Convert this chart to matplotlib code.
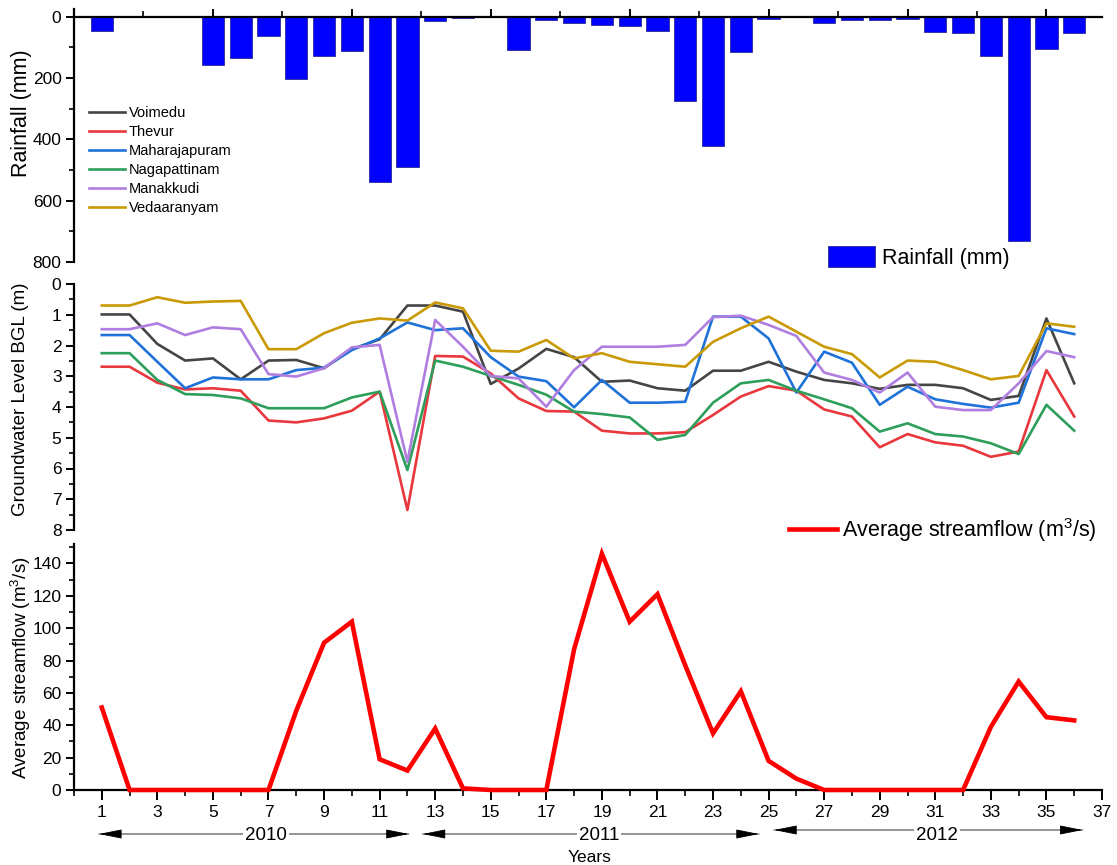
import matplotlib
matplotlib.use("Agg")
import matplotlib.pyplot as plt
import matplotlib.transforms as mtransforms
from matplotlib.ticker import MultipleLocator, FixedLocator
from matplotlib.patches import Patch

plt.rcParams["font.family"] = ["Liberation Sans", "DejaVu Sans"]
plt.rcParams["mathtext.fontset"] = "custom"
plt.rcParams["mathtext.rm"] = "Liberation Sans"

# ---------------- data ----------------
months = list(range(1, 37))

rainfall = [47, 0, 0, 0, 158, 134, 63, 203, 128, 112, 539, 491,
            14, 5, 0, 109, 12, 20, 27, 30, 47, 274, 423, 114,
            6, 2, 20, 11, 11, 6, 50, 54, 127, 730, 107, 54]

stations = ["Voimedu", "Thevur", "Maharajapuram", "Nagapattinam",
            "Manakkudi", "Vedaaranyam"]
station_colors = ["#454545", "#e8373d", "#1f72d8", "#2e9e5b", "#b07ee0", "#c99a06"]

voimedu = [0.99, 0.99, 1.95, 2.49, 2.42, 3.10, 2.49, 2.47, 2.74, 2.12, 1.80, 0.70,
           0.70, 0.90, 3.25, 2.75, 2.11, 2.38, 3.18, 3.14, 3.39, 3.47, 2.82, 2.82,
           2.53, 2.85, 3.12, 3.23, 3.41, 3.28, 3.28, 3.39, 3.77, 3.64, 1.12, 3.23]
thevur = [2.69, 2.69, 3.21, 3.43, 3.39, 3.47, 4.44, 4.50, 4.37, 4.12, 3.50, 7.35,
          2.34, 2.36, 2.91, 3.72, 4.13, 4.15, 4.77, 4.86, 4.86, 4.82, 4.26, 3.66,
          3.32, 3.47, 4.08, 4.31, 5.31, 4.88, 5.15, 5.26, 5.62, 5.45, 2.80, 4.31]
maharajapuram = [1.66, 1.66, 2.53, 3.39, 3.04, 3.10, 3.10, 2.80, 2.72, 2.15, 1.77, 1.25,
                 1.50, 1.44, 2.38, 3.01, 3.16, 4.01, 3.12, 3.86, 3.86, 3.83, 1.06, 1.06,
                 1.77, 3.53, 2.20, 2.56, 3.93, 3.34, 3.75, 3.90, 4.02, 3.86, 1.44, 1.63]
nagapattinam = [2.25, 2.25, 3.12, 3.58, 3.61, 3.72, 4.04, 4.04, 4.04, 3.69, 3.50, 6.05,
                2.49, 2.69, 2.99, 3.28, 3.60, 4.15, 4.23, 4.34, 5.07, 4.91, 3.86, 3.23,
                3.12, 3.47, 3.75, 4.04, 4.80, 4.53, 4.88, 4.96, 5.18, 5.53, 3.93, 4.77]
manakkudi = [1.47, 1.47, 1.28, 1.66, 1.41, 1.47, 2.93, 3.01, 2.74, 2.06, 1.98, 5.78,
             1.17, 2.04, 2.99, 3.07, 3.99, 2.80, 2.04, 2.04, 2.04, 1.98, 1.08, 1.03,
             1.33, 1.69, 2.88, 3.12, 3.53, 2.88, 3.99, 4.10, 4.10, 3.23, 2.18, 2.38]
vedaaranyam = [0.70, 0.70, 0.43, 0.61, 0.57, 0.55, 2.12, 2.12, 1.60, 1.26, 1.12, 1.19,
               0.60, 0.79, 2.17, 2.20, 1.82, 2.42, 2.25, 2.53, 2.61, 2.69, 1.88, 1.44,
               1.06, 1.55, 2.04, 2.28, 3.04, 2.49, 2.53, 2.80, 3.10, 2.99, 1.28, 1.39]
groundwater = [voimedu, thevur, maharajapuram, nagapattinam, manakkudi, vedaaranyam]

streamflow = [51, 0, 0, 0, 0, 0, 0, 49, 91, 104, 19, 12,
              38, 1, 0, 0, 0, 87, 146, 104, 121, 77, 35, 61,
              18, 7, 0, 0, 0, 0, 0, 0, 39, 67, 45, 43]

years = ["2010", "2011", "2012"]
x_ticks_major = list(range(1, 38, 2))

# ---------------- layout ----------------
W, H = 1117, 865
fig = plt.figure(figsize=(W / 100, H / 100), dpi=100)


def box(top_px, bottom_px, left_px=74, right_px=1102):
    return [left_px / W, 1 - bottom_px / H, (right_px - left_px) / W,
            (bottom_px - top_px) / H]


ax_r = fig.add_axes(box(9, 262))
ax_g = fig.add_axes(box(284, 530))
ax_s = fig.add_axes(box(544, 790))

TICK_FS = 12.5
LABEL_FS = 13.5
spine_lw = 1.6

for ax in (ax_r, ax_g, ax_s):
    ax.set_xlim(0, 37)
    ax.spines["right"].set_visible(False)
    for s in ax.spines.values():
        s.set_linewidth(spine_lw)
    ax.tick_params(which="major", length=6, width=1.4, labelsize=TICK_FS, pad=3)
    ax.tick_params(which="minor", length=3.5, width=1.2)
    ax.patch.set_alpha(0)

# ---- rainfall (inverted bars hanging from zero) ----
bars = ax_r.bar(months, rainfall, width=0.8, color="#0000ff",
                edgecolor="#2a2a9a", linewidth=0.6, zorder=2)
ax_r.set_ylim(800, -25)
ax_r.spines["bottom"].set_visible(False)
ax_r.spines["top"].set_position(("data", 0))
ax_r.spines["top"].set_zorder(3)
ax_r.xaxis.set_ticks_position("top")
ax_r.xaxis.set_major_locator(MultipleLocator(5))
ax_r.xaxis.set_minor_locator(MultipleLocator(2.5))
ax_r.tick_params(axis="x", which="both", direction="out", labeltop=False)
ax_r.tick_params(axis="x", which="minor", length=4)
ax_r.yaxis.set_major_locator(FixedLocator([0, 200, 400, 600, 800]))
ax_r.yaxis.set_minor_locator(FixedLocator([100, 300, 500, 700]))
ax_r.spines["left"].set_bounds(-25, 800)

# ---- groundwater levels ----
gw_lines = []
for name, vals, col in zip(stations, groundwater, station_colors):
    (ln,) = ax_g.plot(months, vals, color=col, lw=1.9, label=name)
    gw_lines.append(ln)
ax_g.set_ylim(8, 0)
ax_g.spines["top"].set_visible(False)
ax_g.spines["bottom"].set_visible(False)
ax_g.set_xticks([])
ax_g.yaxis.set_major_locator(MultipleLocator(1))
ax_g.yaxis.set_minor_locator(MultipleLocator(0.5))

# ---- streamflow ----
(sf_line,) = ax_s.plot(months, streamflow, color="#ff0000", lw=3.3,
                       solid_joinstyle="miter", zorder=3, clip_on=False)
ax_s.set_ylim(0, 152)
ax_s.spines["top"].set_visible(False)
ax_s.xaxis.set_major_locator(FixedLocator(x_ticks_major))
ax_s.xaxis.set_minor_locator(FixedLocator(list(range(0, 37, 2))))
ax_s.yaxis.set_major_locator(MultipleLocator(20))
ax_s.yaxis.set_minor_locator(MultipleLocator(10))
ax_s.tick_params(axis="x", which="major", length=7, pad=4)
ax_s.tick_params(axis="x", which="minor", length=4)

# ---- axis titles ----
fig.text(22 / W, 1 - 113 / H, "Rainfall (mm)", rotation=90, ha="center",
         va="center", fontsize=15.5)
fig.text(21 / W, 1 - 399 / H, "Groundwater Level BGL (m)", rotation=90,
         ha="center", va="center", fontsize=LABEL_FS)
fig.text(21 / W, 1 - 668 / H, r"Average streamflow (m$^{3}$/s)", rotation=90,
         ha="center", va="center", fontsize=LABEL_FS)
fig.text(590 / W, 1 - 857 / H, "Years", ha="center", va="center", fontsize=12.5)

# ---- legends ----
fig.legend(gw_lines, stations, loc="upper left",
           bbox_to_anchor=(89 / W, 1 - 106 / H), frameon=False, fontsize=10.5,
           handlelength=2.5, handletextpad=0.25, labelspacing=0.34,
           borderpad=0, borderaxespad=0)
fig.legend([Patch(facecolor="#0000ff", edgecolor="#2a2a9a", linewidth=0.6)],
           ["Rainfall (mm)"], loc="upper left",
           bbox_to_anchor=(828 / W, 1 - 246 / H), frameon=False, fontsize=15.5,
           handlelength=2.2, handleheight=1.1, handletextpad=0.3,
           borderpad=0, borderaxespad=0)
fig.legend([sf_line], [r"Average streamflow (m$^{3}$/s)"], loc="upper left",
           bbox_to_anchor=(789 / W, 1 - 516 / H), frameon=False, fontsize=15.5,
           handlelength=2.25, handletextpad=0.2, borderpad=0, borderaxespad=0)

# ---- year spans under the month axis ----
trans = mtransforms.blended_transform_factory(ax_s.transData, fig.transFigure)
year_spans = [(0.9, 12.05), (12.55, 24.65), (25.2, 36.3)]
year_label_x = [6.9, 18.9, 31.05]
year_arrow_y = [1 - 834 / H, 1 - 834 / H, 1 - 830 / H]
year_text_y = [1 - 835 / H, 1 - 835 / H, 1 - 836 / H]
head = dict(arrowstyle="-|>,head_length=0.8,head_width=0.16", color="black",
            lw=0.6, mutation_scale=18, shrinkA=0, shrinkB=0)
for label, (x0, x1), xl, ya, yt in zip(years, year_spans, year_label_x,
                                       year_arrow_y, year_text_y):
    # shaft
    ax_s.annotate("", xy=(x0, ya), xytext=(x1, ya), xycoords=trans,
                  textcoords=trans, annotation_clip=False,
                  arrowprops=dict(arrowstyle="-", color="#6a6a6a", lw=1.0,
                                  shrinkA=0, shrinkB=0))
    # heads
    ax_s.annotate("", xy=(x0, ya), xytext=(x0 + 0.6, ya), xycoords=trans,
                  textcoords=trans, annotation_clip=False, arrowprops=head)
    ax_s.annotate("", xy=(x1, ya), xytext=(x1 - 0.6, ya), xycoords=trans,
                  textcoords=trans, annotation_clip=False, arrowprops=head)
    ax_s.text(xl, yt, label, transform=trans, ha="center", va="center",
              fontsize=13.5, zorder=5,
              bbox=dict(facecolor="white", edgecolor="none", pad=1.5))

fig.savefig("out.png", dpi=100)
